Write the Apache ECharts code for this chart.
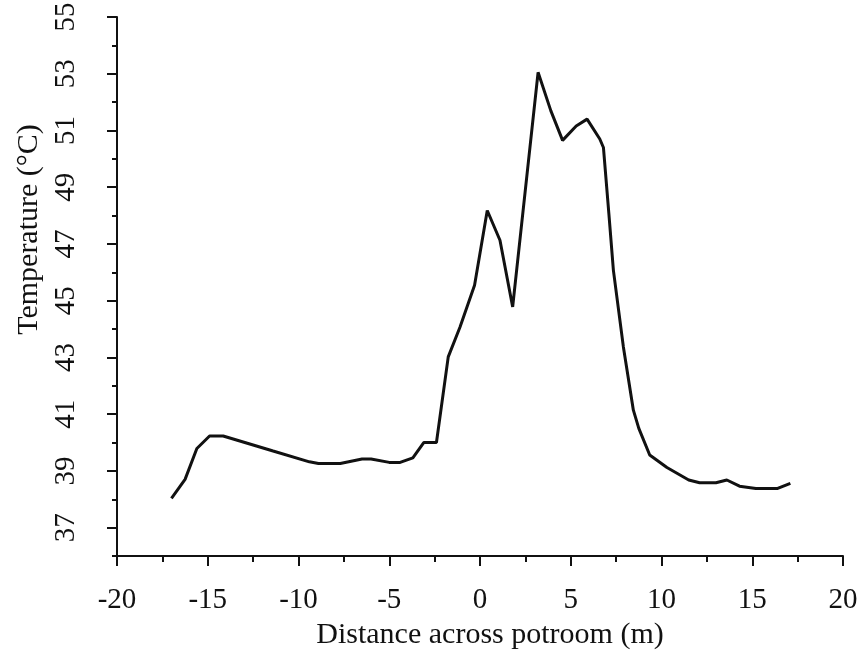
<!DOCTYPE html>
<html>
<head>
<meta charset="utf-8">
<script src="https://cdn.jsdelivr.net/npm/echarts@6/dist/echarts.min.js"></script>
<style>
html,body{margin:0;padding:0;background:#fff;}
#chart{width:865px;height:653px;}
</style>
</head>
<body>
<div id="chart"></div>
<script>
// Distance across potroom (m)
var distance = [-17, -16.25, -15.6, -14.9, -14.15, -11.4, -9.4, -8.9, -7.7, -6.5, -6.0, -5.0, -4.4, -3.7, -3.1, -2.4,
  -1.75, -1.1, -0.3, 0.4, 1.1, 1.8, 3.2, 3.9, 4.55, 5.3, 5.9, 6.6, 6.8, 7.1, 7.35, 7.9, 8.45, 8.75, 9.35,
  10.3, 11.5, 12.1, 13.0, 13.6, 14.3, 15.2, 16.4, 17.1];
// Temperature (°C)
var temperature = [38.03, 38.7, 39.79, 40.23, 40.23, 39.7, 39.32, 39.26, 39.26, 39.42, 39.42, 39.3, 39.3, 39.46, 40.0, 40.0,
  43.02, 44.07, 45.54, 48.18, 47.13, 44.78, 53.05, 51.7, 50.65, 51.16, 51.4, 50.7, 50.4, 48.07, 46.07, 43.37, 41.14, 40.5, 39.56,
  39.12, 38.68, 38.58, 38.58, 38.68, 38.46, 38.38, 38.38, 38.56];
var yMajorTicks = [37, 39, 41, 43, 45, 47, 49, 51, 53, 55];
var yMinorTicks = [36, 38, 40, 42, 44, 46, 48, 50, 52, 54];

var points = distance.map(function (d, i) { return [d, temperature[i]]; });
var font = "'Liberation Serif', 'Times New Roman', serif";
var chart = echarts.init(document.getElementById('chart'), null, {renderer: 'canvas'});
chart.setOption({
  animation: false,
  backgroundColor: '#fff',
  grid: {left: 117, right: 22, top: 17, bottom: 97, containLabel: false, outerBoundsMode: 'none'},
  xAxis: {
    type: 'value', min: -20, max: 20, interval: 5,
    name: 'Distance across potroom (m)', nameLocation: 'middle', nameGap: 56,
    nameTextStyle: {fontFamily: font, fontSize: 30, color: '#111', padding: [0, 0, 0, 20]},
    axisLine: {show: true, onZero: false, lineStyle: {color: '#111', width: 2}},
    axisTick: {show: true, length: 10, lineStyle: {color: '#111', width: 2}},
    minorTick: {show: true, splitNumber: 2, length: 6, lineStyle: {color: '#111', width: 2}},
    axisLabel: {fontFamily: font, fontSize: 29, color: '#111', margin: 30},
    splitLine: {show: false}
  },
  yAxis: [{
    type: 'value', min: 36, max: 55, position: 'left',
    name: 'Temperature (°C)', nameLocation: 'middle', nameGap: 72, nameRotate: 90,
    nameTextStyle: {fontFamily: font, fontSize: 30, color: '#111', padding: [0, 0, 0, 114]},
    axisLine: {show: true, onZero: false, lineStyle: {color: '#111', width: 2}},
    axisTick: {show: true, length: 10, customValues: yMajorTicks, lineStyle: {color: '#111', width: 2}},
    axisLabel: {fontFamily: font, fontSize: 29, color: '#111', rotate: 90, margin: 36, customValues: yMajorTicks},
    splitLine: {show: false}
  }, {
    type: 'value', min: 36, max: 55, position: 'left',
    axisLine: {show: false, onZero: false},
    axisTick: {show: true, length: 5, customValues: yMinorTicks, lineStyle: {color: '#111', width: 2}},
    axisLabel: {show: false},
    splitLine: {show: false}
  }],
  series: [{
    type: 'line', data: points, yAxisIndex: 0,
    showSymbol: false, symbol: 'none',
    lineStyle: {color: '#111', width: 3},
    smooth: false
  }]
});
</script>
</body>
</html>
